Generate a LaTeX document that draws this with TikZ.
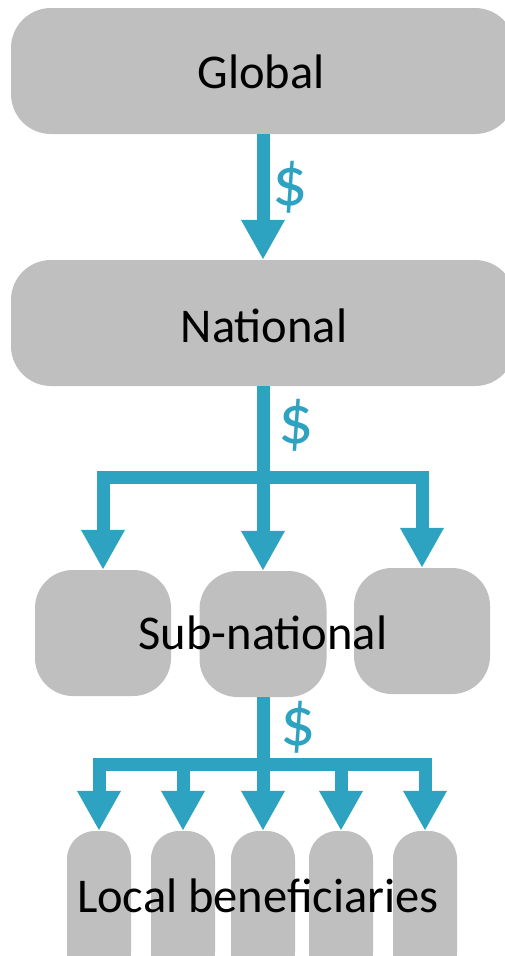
\documentclass[tikz,border=0pt]{standalone}
\usepackage{fontspec}
\setmainfont{Carlito}
\usetikzlibrary{arrows.meta}
\definecolor{boxgray}{HTML}{BFBFBF}
\definecolor{flowteal}{HTML}{2EA3C1}

\begin{document}
\begin{tikzpicture}[x=1pt,y=-1pt,
  level/.style={fill=boxgray, rounded corners=40pt, inner sep=0pt, minimum width=504pt, minimum height=126pt},
  subbox/.style={fill=boxgray, rounded corners=38pt, inner sep=0pt, minimum height=126pt},
  localbox/.style={fill=boxgray, rounded corners=28pt, inner sep=0pt, minimum width=64pt, minimum height=150pt},
  label/.style={font=\fontsize{48.5}{56}\selectfont, inner sep=0pt},
  dollar/.style={text=flowteal, font=\fontsize{70}{76}\selectfont, inner sep=0pt},
  bar/.style={draw=flowteal, line width=\lw},
  flow/.style={bar, -{Triangle[length=40pt, width=41pt]}}]
\def\lw{13pt}
\useasboundingbox (0,0) rectangle (505,956);
% levels
\node [level, name=g] at (263,71) {};
\node [level, name=n] at (263,323) {};
\node [label, anchor=base, name=gl] at (261,88) {Global};
\node [label, anchor=base, name=nl] at (264,342) {National};
% sub-national
\node [subbox, minimum width=136pt, name=s1] at (103,633) {};
\node [subbox, minimum width=127pt, name=s2] at (263,634) {};
\node [subbox, minimum width=136pt, name=s3] at (422,631) {};
\node [label, anchor=base, name=sl] at (263,649) {Sub-national};
% local
\node [localbox, name=l1] at (99,906) {};
\node [localbox, name=l2] at (183,906) {};
\node [localbox, name=l3] at (263,906) {};
\node [localbox, name=l4] at (341,906) {};
\node [localbox, name=l5] at (425,906) {};
\node [label, anchor=base, name=ll] at (258,912) {Local beneficiaries};
% money flows
\coordinate (sp1) at (263,477);
\coordinate (sp2) at (263,764);
\draw [flow] (g.south) -- (n.north);
\draw [bar] (n.south) -- (sp1);
\draw [flow] (sp1) -| (s1.north);
\draw [flow] (sp1) -- (s2.north);
\draw [flow] (sp1) -| (s3.north);
\draw [bar] (s2.south) -- (sp2);
\draw [flow] (sp2) -| (l1.north);
\draw [flow] (sp2) -| (l2.north);
\draw [flow] (sp2) -- (l3.north);
\draw [flow] (sp2) -| (l4.north);
\draw [flow] (sp2) -| (l5.north);
\node [dollar, name=d1] at (290,187) {\$};
\node [dollar, name=d2] at (296,425) {\$};
\node [dollar, name=d3] at (298,727) {\$};
\end{tikzpicture}
\end{document}
